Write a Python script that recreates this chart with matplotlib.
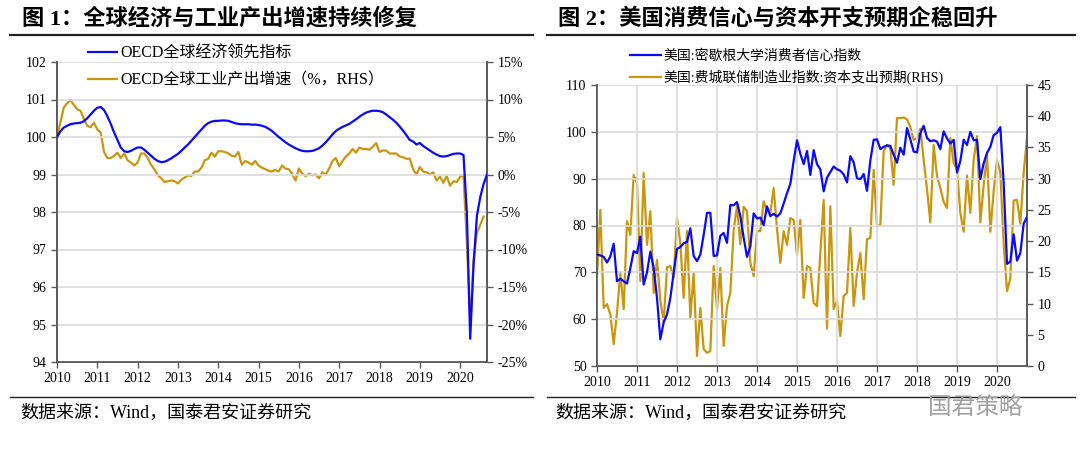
import matplotlib.pyplot as plt
from matplotlib.lines import Line2D
import numpy as np

plt.rcParams['font.family'] = ['Liberation Serif', 'Noto Sans CJK SC']
plt.rcParams['axes.unicode_minus'] = False

BLUE = '#0A0AF5'
GOLD = '#C8960F'
GRID = '#D9D9D9'
SPINE = '#595959'

# ---- chart 1: OECD data, monthly from Jan 2010 ----
oecd_cli = [
    100.0, 100.15, 100.25, 100.3, 100.34, 100.36, 100.37, 100.38, 100.42, 100.5, 100.6, 100.7,
    100.78, 100.8, 100.72, 100.55, 100.35, 100.12, 99.92, 99.72, 99.62, 99.6, 99.63, 99.68,
    99.72, 99.72, 99.66, 99.58, 99.5, 99.42, 99.36, 99.33, 99.34, 99.38, 99.43, 99.49,
    99.55, 99.63, 99.72, 99.8, 99.9, 100.0, 100.1, 100.2, 100.3, 100.37, 100.41, 100.43,
    100.43, 100.44, 100.44, 100.43, 100.4, 100.37, 100.35, 100.34, 100.34, 100.34, 100.33, 100.33,
    100.32, 100.3, 100.27, 100.22, 100.16, 100.08, 100.0, 99.93, 99.86, 99.8, 99.75, 99.7,
    99.66, 99.63, 99.62, 99.62, 99.63, 99.66, 99.7, 99.77, 99.86, 99.96, 100.07, 100.16,
    100.22, 100.27, 100.31, 100.35, 100.41, 100.47, 100.54, 100.6, 100.65, 100.68, 100.7, 100.7,
    100.69, 100.66, 100.6, 100.53, 100.46, 100.38, 100.28, 100.17, 100.05, 99.92, 99.88, 99.8,
    99.84, 99.76, 99.7, 99.64, 99.58, 99.53, 99.49, 99.48, 99.49, 99.52, 99.55, 99.56,
    99.56, 99.52, 98.0, 94.62, 96.6, 97.9, 98.4, 98.75, 99.0,
]
oecd_ip = [
    5.1, 6.9, 8.9, 9.5, 9.9, 9.3, 8.7, 8.5, 7.4, 6.5, 6.3, 6.9,
    6.0, 5.6, 3.0, 2.2, 2.2, 2.5, 2.9, 2.2, 2.8, 1.9, 1.6, 1.2,
    1.6, 2.8, 2.8, 2.2, 1.3, 0.7, -0.1, -0.5, -1.0, -0.9, -0.8, -0.9,
    -1.2, -0.7, -0.4, -0.1, -0.2, 0.4, 0.4, 0.9, 1.9, 2.1, 2.9, 2.4,
    3.1, 3.1, 3.0, 2.8, 2.5, 2.4, 3.0, 1.3, 1.8, 1.6, 1.3, 1.8,
    1.2, 0.9, 0.7, 0.5, 0.4, 0.6, 0.4, 1.2, 0.8, 0.7, 0.1, -0.8,
    0.8, 0.1, -0.2, 0.1, -0.1, 0.0, -0.5, 0.3, 0.0, 0.8, 1.8, 2.2,
    1.1, 1.8, 2.4, 2.8, 3.4, 2.9, 3.6, 3.4, 3.4, 3.3, 3.7, 4.2,
    3.0, 3.2, 3.2, 2.8, 2.8, 2.8, 2.4, 2.3, 2.1, 2.1, 0.7, 0.0,
    1.0, 0.4, 0.3, 0.0, 0.3, -0.8, -0.3, -1.1, -0.2, -1.5, -0.9, -1.0,
    -0.3, -0.1, -9.0, -20.1, -11.4, -7.8, -6.7, -5.6,
]

# ---- chart 2: US data, monthly from Jan 2010 ----
umich_sentiment = [
    73.8, 73.6, 73.3, 72.1, 73.4, 76.1, 68.1, 68.6, 68.1, 67.6, 70.9, 74.5,
    74.1, 77.6, 67.4, 70.0, 74.4, 71.0, 64.5, 55.7, 59.3, 61.0, 64.5, 69.9,
    75.0, 75.4, 76.2, 76.5, 79.4, 73.5, 72.4, 73.8, 78.0, 82.7, 82.7, 73.5,
    73.6, 77.8, 78.4, 76.3, 84.4, 84.3, 85.0, 82.0, 77.4, 73.3, 75.5, 82.6,
    81.5, 81.7, 80.1, 84.1, 82.0, 82.5, 81.9, 82.6, 84.7, 86.9, 88.9, 93.8,
    98.2, 95.3, 93.1, 95.9, 90.8, 96.1, 93.1, 92.0, 87.3, 90.2, 91.4, 92.6,
    92.0, 91.7, 90.9, 89.2, 94.8, 93.5, 90.1, 89.9, 91.0, 87.4, 93.9, 98.3,
    98.4, 96.3, 96.8, 97.1, 97.0, 95.1, 93.4, 96.6, 95.1, 100.8, 98.4, 95.8,
    95.6, 99.7, 101.3, 98.7, 98.0, 98.2, 97.9, 96.3, 100.1, 98.6, 97.5, 98.3,
    91.3, 93.8, 98.3, 97.2, 100.0, 98.2, 98.3, 89.9, 93.3, 95.5, 96.8, 99.3,
    99.8, 101.0, 89.1, 71.8, 72.3, 78.1, 72.5, 74.1, 80.4, 81.8,
]
philly_capex = [
    14.4, 25.0, 9.3, 9.9, 8.3, 3.5, 8.5, 14.9, 9.1, 23.2, 21.0, 30.6,
    29.3, 13.6, 30.9, 19.4, 24.8, 11.7, 17.0, 10.5, 7.0, 15.8, 16.0, 14.1,
    23.7, 19.7, 10.9, 21.6, 7.7, 14.9, 1.6, 9.3, 2.7, 2.1, 2.4, 16.0,
    9.1, 15.7, 3.2, 9.6, 11.7, 21.8, 25.6, 19.5, 25.5, 24.8, 16.5, 14.4,
    21.6, 21.6, 26.4, 24.8, 24.5, 28.5, 22.0, 16.5, 21.6, 19.4, 23.7, 23.4,
    17.8, 23.4, 10.9, 16.0, 15.7, 10.1, 9.6, 18.0, 26.6, 6.0, 25.6, 9.1,
    10.4, 4.8, 11.2, 11.7, 22.1, 9.6, 14.9, 18.1, 10.7, 20.3, 20.5, 31.4,
    22.4, 22.6, 34.4, 35.4, 34.9, 29.0, 39.7, 39.7, 39.8, 39.5, 38.3, 36.2,
    36.5, 38.0, 33.0, 28.3, 23.0, 35.4, 30.4, 28.5, 26.3, 25.3, 36.5, 32.5,
    31.5, 24.5, 21.5, 30.5, 24.5, 33.0, 36.8, 23.0, 29.0, 33.8, 21.5, 28.0,
    33.0, 31.0, 19.5, 12.0, 14.0, 26.5, 26.6, 22.8, 31.0, 36.5,
]

years = list(range(2010, 2021))


def month_axis(n):
    return 2010 + np.arange(n) / 12.0


def style_axes(ax, ax2):
    ax.spines['top'].set_visible(False)
    ax2.spines['top'].set_visible(False)
    for a in (ax, ax2):
        for s in ('left', 'right', 'bottom'):
            a.spines[s].set_color(SPINE)
            a.spines[s].set_linewidth(1.2)
        a.tick_params(colors=SPINE, labelcolor='black', labelsize=10,
                      length=4, width=1)
    ax.set_xticks(years)
    ax.set_xticklabels([str(y) for y in years])
    ax.set_axisbelow(True)


fig = plt.figure(figsize=(10.8, 4.55), dpi=100)

# ---------------- left chart ----------------
ax1 = fig.add_axes([57 / 1080, 1 - 362 / 455, 430 / 1080, 300 / 455])
ax1b = ax1.twinx()
t1 = month_axis(len(oecd_cli))
t2 = month_axis(len(oecd_ip))
l1, = ax1.plot(t1, oecd_cli, color=BLUE, lw=1.6, zorder=3)
l2, = ax1b.plot(t2, oecd_ip, color=GOLD, lw=1.6)
ax1.set_zorder(ax1b.get_zorder() + 1)
ax1.patch.set_visible(False)
ax1.set_xlim(2010, t1[-1])
ax1.set_ylim(94, 102)
ax1.set_yticks(range(94, 103))
ax1b.set_ylim(-25, 15)
ax1b.set_yticks(range(-25, 16, 5))
ax1b.set_yticklabels([f'{v}%' for v in range(-25, 16, 5)])
ax1.yaxis.grid(True, color=GRID, lw=1.2)
style_axes(ax1, ax1b)
ax1.legend([l1, l2], ['OECD全球经济领先指标', 'OECD全球工业产出增速（%，RHS）'],
           loc='upper left', bbox_to_anchor=(88 / 1080, 1 - 46 / 455),
           bbox_transform=fig.transFigure, frameon=False, fontsize=11.5,
           handlelength=1.8, handletextpad=0.2, labelspacing=0.65,
           borderaxespad=0, borderpad=0)

# ---------------- right chart ----------------
ax2 = fig.add_axes([597 / 1080, 1 - 366 / 455, 430 / 1080, 281 / 455])
ax2b = ax2.twinx()
t3 = month_axis(len(umich_sentiment))
t4 = month_axis(len(philly_capex))
l3, = ax2.plot(t3, umich_sentiment, color=BLUE, lw=1.6, zorder=3)
l4, = ax2b.plot(t4, philly_capex, color=GOLD, lw=1.6)
ax2.set_zorder(ax2b.get_zorder() + 1)
ax2.patch.set_visible(False)
ax2.set_xlim(2010, t3[-1])
ax2.set_ylim(50, 110)
ax2.set_yticks(range(50, 111, 10))
ax2b.set_ylim(0, 45)
ax2b.set_yticks(range(0, 46, 5))
ax2.grid(True, color=GRID, lw=1.2)
style_axes(ax2, ax2b)
ax2.legend([l3, l4], ['美国:密歇根大学消费者信心指数', '美国:费城联储制造业指数:资本支出预期(RHS)'],
           loc='upper left', bbox_to_anchor=(630 / 1080, 1 - 49 / 455),
           bbox_transform=fig.transFigure, frameon=False, fontsize=10,
           handlelength=2.2, handletextpad=0.2, labelspacing=0.55,
           borderaxespad=0, borderpad=0)

# ---------------- titles, rules, footers ----------------
title_font = {'family': ['Liberation Serif', 'Noto Sans CJK SC'], 'weight': 'bold', 'size': 16}
fig.text(22 / 1080, 1 - 19 / 455, '图 1：全球经济与工业产出增速持续修复', va='center', **title_font)
fig.text(558 / 1080, 1 - 19 / 455, '图 2：美国消费信心与资本开支预期企稳回升', va='center', **title_font)

for x0, x1 in ((10, 533), (547, 1075)):
    fig.add_artist(Line2D([x0 / 1080, x1 / 1080], [1 - 35 / 455] * 2,
                          transform=fig.transFigure, color='#222222', lw=1.6))
    fig.add_artist(Line2D([x0 / 1080, x1 / 1080], [1 - 397 / 455] * 2,
                          transform=fig.transFigure, color='#222222', lw=1.0))

fig.text(20 / 1080, 1 - 413 / 455, '数据来源：Wind，国泰君安证券研究', va='center', fontsize=13)
fig.text(555 / 1080, 1 - 413 / 455, '数据来源：Wind，国泰君安证券研究', va='center', fontsize=13)
fig.text(928 / 1080, 1 - 408 / 455, '国君策略', va='center', fontsize=17,
         color='#A0A0A0', family='Noto Sans CJK SC', weight='light')

fig.savefig('out.png', dpi=100)
